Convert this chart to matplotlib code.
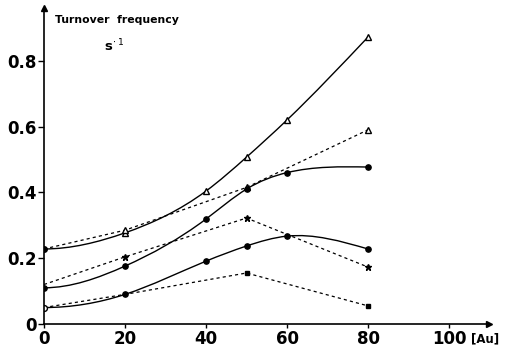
import matplotlib
matplotlib.use("Agg")
import matplotlib.pyplot as plt
from matplotlib.path import Path
from matplotlib.patches import PathPatch
import numpy as np

# ---- data ----
x_full = [0, 20, 40, 50, 60, 80]
tri_solid = [0.228, 0.277, 0.404, 0.507, 0.620, 0.872]
star_solid = [0.110, 0.176, 0.319, 0.410, 0.460, 0.477]
circ_solid = [0.050, 0.090, 0.191, 0.237, 0.267, 0.228]

x_dash = [0, 20, 50, 80]
tri_dash = [0.228, 0.285, 0.415, 0.590]
star_dash = [0.120, 0.204, 0.322, 0.173]
sq_dash = [0.050, 0.090, 0.155, 0.055]

xticks = [0, 20, 40, 60, 80, 100]
xticklabels = ["0", "20", "40", "60", "80", "100"]
yticks = [0, 0.2, 0.4, 0.6, 0.8]
yticklabels = ["0", "0.2", "0.4", "0.6", "0.8"]

fig = plt.figure(figsize=(5.10, 3.46), dpi=100)
ax = fig.add_axes([0.0863, 0.0636, 0.8735, 0.913])
ax.set_xlim(0, 110)
ax.set_ylim(0, 0.96)


def spline_path(xs, ys, start_slope=0.0):
    """Clamped-start / natural-end cubic spline, rendered as Bezier path."""
    xs = np.asarray(xs, float)
    ys = np.asarray(ys, float)
    n = len(xs)
    h = np.diff(xs)
    A = np.zeros((n, n))
    b = np.zeros(n)
    A[0, 0] = 2 * h[0]
    A[0, 1] = h[0]
    b[0] = 6 * ((ys[1] - ys[0]) / h[0] - start_slope)
    for i in range(1, n - 1):
        A[i, i - 1] = h[i - 1]
        A[i, i] = 2 * (h[i - 1] + h[i])
        A[i, i + 1] = h[i]
        b[i] = 6 * ((ys[i + 1] - ys[i]) / h[i] - (ys[i] - ys[i - 1]) / h[i - 1])
    A[n - 1, n - 1] = 1.0
    M = np.linalg.solve(A, b)
    verts = [(xs[0], ys[0])]
    codes = [Path.MOVETO]
    for i in range(n - 1):
        d = (ys[i + 1] - ys[i]) / h[i]
        s0 = d - h[i] * (2 * M[i] + M[i + 1]) / 6
        s1 = d + h[i] * (M[i] + 2 * M[i + 1]) / 6
        verts += [(xs[i] + h[i] / 3, ys[i] + s0 * h[i] / 3),
                  (xs[i + 1] - h[i] / 3, ys[i + 1] - s1 * h[i] / 3),
                  (xs[i + 1], ys[i + 1])]
        codes += [Path.CURVE4] * 3
    return Path(verts, codes)


for ys in (tri_solid, star_solid, circ_solid):
    ax.add_patch(PathPatch(spline_path(x_full, ys), fill=False,
                           edgecolor="black", lw=1.0))

dash = (0, (2.5, 2.5))
ax.plot(x_dash, tri_dash, color="black", lw=0.9, linestyle=dash)
ax.plot(x_dash, star_dash, color="black", lw=0.9, linestyle=dash)
ax.plot(x_dash, sq_dash, color="black", lw=0.9, linestyle=dash)

# markers
ax.plot(x_full[1:], tri_solid[1:], linestyle="none", marker="^", ms=5,
        mfc="white", mec="black", mew=1.0)
ax.plot(x_dash[1:], tri_dash[1:], linestyle="none", marker="^", ms=5,
        mfc="white", mec="black", mew=1.0)
ax.plot(x_full, star_solid, linestyle="none", marker="o", ms=3.8,
        mfc="black", mec="black")
ax.plot(x_dash[1:], star_dash[1:], linestyle="none", marker="*", ms=5,
        mfc="black", mec="black")
ax.plot(x_full[1:], circ_solid[1:], linestyle="none", marker="o", ms=3.8,
        mfc="black", mec="black")
ax.plot([x_full[0]], [circ_solid[0]], linestyle="none", marker="o", ms=4.2,
        mfc="white", mec="black", mew=1.0)
ax.plot(x_dash[2:], sq_dash[2:], linestyle="none", marker="s", ms=3.5,
        mfc="black", mec="black")
ax.plot([x_full[0]], [tri_solid[0]], linestyle="none", marker="o", ms=4,
        mfc="black", mec="black")

# axes styling
for s in ("top", "right"):
    ax.spines[s].set_visible(False)
ax.spines["left"].set_linewidth(1.2)
ax.spines["bottom"].set_linewidth(1.2)
ax.plot(1, 0, ">", color="black", ms=5, transform=ax.get_yaxis_transform(),
        clip_on=False)
ax.plot(0, 1, "^", color="black", ms=5, transform=ax.get_xaxis_transform(),
        clip_on=False)

ax.set_xticks(xticks)
ax.set_xticklabels(xticklabels, fontsize=12, fontweight="bold")
ax.set_yticks(yticks)
ax.set_yticklabels(yticklabels, fontsize=12, fontweight="bold")
ax.tick_params(axis="x", length=3, width=1, pad=1)
ax.tick_params(axis="y", length=4, width=1, pad=1)

ax.text(2.7, 0.925, "Turnover  frequency", fontsize=7.8, fontweight="bold",
        ha="left", va="center")
ax.text(17.5, 0.845, "s$^{\\cdot\\ 1}$", fontsize=9.5, fontweight="bold",
        ha="center", va="center")
ax.text(105.5, -0.025, "[Au]", fontsize=8.5, fontweight="bold",
        ha="left", va="top")

fig.savefig("out.png", dpi=100)
